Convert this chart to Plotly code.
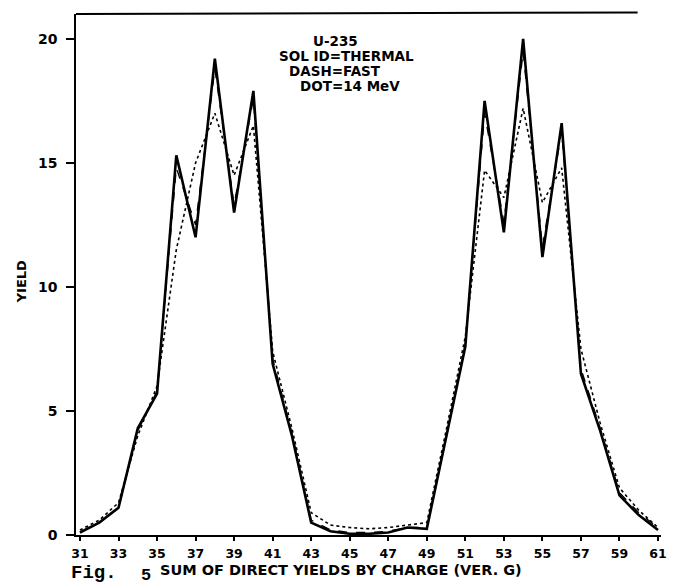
import plotly.graph_objects as go

# Charge number Z
charge = list(range(31, 62))

# Solid = thermal
thermal = [0.1, 0.5, 1.1, 4.3, 5.7, 15.3, 12.0, 19.2, 13.0, 17.9,
           6.9, 4.0, 0.5, 0.15, 0.05, 0.05, 0.1, 0.3, 0.25, 3.9,
           7.6, 17.5, 12.2, 20.0, 11.2, 16.6, 6.5, 4.2, 1.6, 0.8, 0.2]
# Dash = fast
fast = [0.1, 0.5, 1.1, 4.2, 5.8, 14.8, 12.5, 18.8, 13.3, 17.6,
        7.1, 4.1, 0.6, 0.2, 0.1, 0.1, 0.15, 0.3, 0.3, 3.9,
        7.7, 17.0, 12.6, 19.5, 11.6, 16.3, 6.7, 4.3, 1.7, 0.9, 0.3]
# Dot = 14 MeV
mev14 = [0.2, 0.6, 1.3, 4.0, 6.0, 11.5, 15.0, 17.0, 14.5, 16.5,
         7.4, 4.3, 0.9, 0.4, 0.3, 0.25, 0.3, 0.4, 0.5, 4.2,
         8.0, 14.7, 13.6, 17.2, 13.4, 14.8, 7.5, 4.5, 1.9, 1.0, 0.3]

x_ticks = list(range(31, 62, 2))
y_ticks = [0, 5, 10, 15, 20]

W, H = 679, 585
L, R, T, B = 76, 14, 14, 50
PW, PH = W - L - R, H - T - B

def px(x):
    return (x - L) / PW

def py(y):
    return (H - B - y) / PH

fig = go.Figure()
fig.add_trace(go.Scatter(x=charge, y=mev14, mode="lines",
                         line=dict(color="black", width=1.6, dash="dot"), name="14 MeV"))
fig.add_trace(go.Scatter(x=charge, y=fast, mode="lines",
                         line=dict(color="black", width=1.4, dash="dash"), name="FAST"))
fig.add_trace(go.Scatter(x=charge, y=thermal, mode="lines",
                         line=dict(color="black", width=2.6), name="THERMAL"))

xtickfont = dict(family="DejaVu Sans", size=12.5, color="black")
ytickfont = dict(family="DejaVu Sans", size=14, color="black")
fig.update_layout(
    width=W, height=H,
    margin=dict(l=L, r=R, t=T, b=B, pad=0),
    paper_bgcolor="white", plot_bgcolor="white",
    showlegend=False,
    xaxis=dict(range=[30.794, 61.155], tickvals=x_ticks,
               ticktext=[f"<b>{v}</b>" for v in x_ticks],
               ticks="outside", ticklen=4, tickwidth=1.5, tickcolor="black",
               ticklabelstandoff=2,
               showline=True, linecolor="black", linewidth=1.5,
               showgrid=False, zeroline=False, tickfont=xtickfont),
    yaxis=dict(range=[0, 21.0], tickvals=y_ticks,
               ticktext=[f"<b>{v}</b>" for v in y_ticks],
               ticks="outside", ticklen=8, tickwidth=1.5, tickcolor="black",
               ticklabelstandoff=6,
               showline=True, linecolor="black", linewidth=1.5,
               showgrid=False, zeroline=False, tickfont=ytickfont),
)

# top frame line
fig.add_shape(type="line", xref="paper", yref="paper", x0=0, x1=0.96, y0=1, y1=1.003,
              line=dict(color="black", width=2))

ann_font = dict(family="DejaVu Sans", size=13.5, color="black")
for text, xl, yc in [("<b>U-235</b>", 313, 41), ("<b>SOL ID=THERMAL</b>", 278, 56),
                     ("<b>DASH=FAST</b>", 288, 71), ("<b>DOT=14 MeV</b>", 300, 86)]:
    fig.add_annotation(text=text, xref="paper", yref="paper", x=px(xl), y=py(yc),
                       xanchor="left", yanchor="middle", showarrow=False, font=ann_font)

fig.add_annotation(text="<b>YIELD</b>", xref="paper", yref="paper", x=px(21), y=py(282),
                   xanchor="center", yanchor="middle", textangle=-90, showarrow=False,
                   font=dict(family="DejaVu Sans", size=13, color="black"))

fig.add_annotation(text="<b>Fig.</b>", xref="paper", yref="paper", x=px(69), y=py(573),
                   xanchor="left", yanchor="middle", showarrow=False,
                   font=dict(family="Liberation Mono", size=19, color="black"))
fig.add_annotation(text="<b>5</b>", xref="paper", yref="paper", x=px(139), y=py(575),
                   xanchor="left", yanchor="middle", showarrow=False,
                   font=dict(family="Liberation Mono", size=17, color="black"))
fig.add_annotation(text="<b>SUM OF DIRECT YIELDS BY CHARGE (VER. G)</b>", xref="paper", yref="paper",
                   x=px(159), y=py(570), xanchor="left", yanchor="middle", showarrow=False,
                   font=dict(family="DejaVu Sans", size=14.5, color="black"))

fig.write_html("out.html")
